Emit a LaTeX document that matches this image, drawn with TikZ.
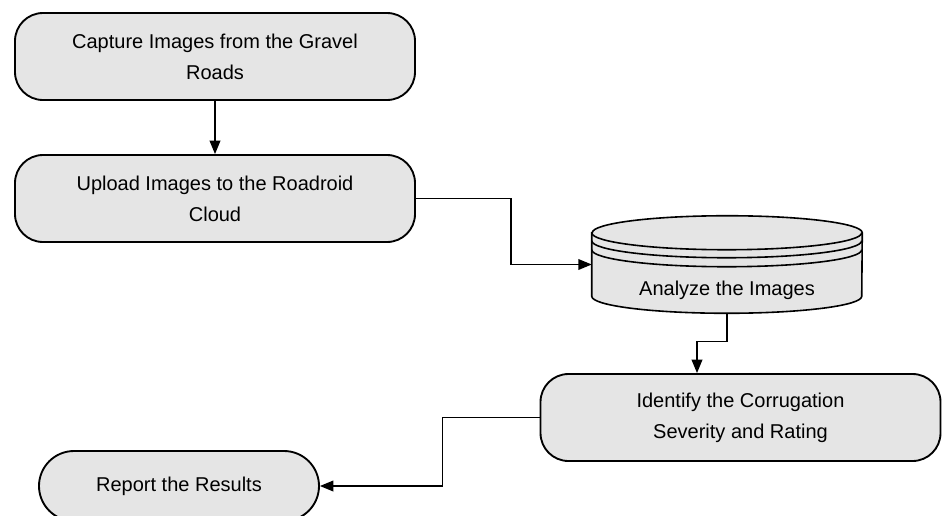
\documentclass[tikz,border=0pt]{standalone}
\usepackage{fontspec}
\setmainfont{Liberation Sans}
\usepackage{tikz}
\usetikzlibrary{arrows.meta, positioning, calc}

\begin{document}
\begin{tikzpicture}[
        x=0.75pt, y=0.75pt,
        procbox/.style={rectangle, draw, line width=1.4pt, fill=black!10, rounded corners=21pt, minimum width=300pt, minimum height=65.25pt, align=center, font=\fontsize{15}{23.25}\selectfont},
        termbox/.style={procbox, rounded corners=26.25pt, minimum width=210pt, minimum height=52.5pt},
        dbbody/.style={rectangle, inner sep=0pt, minimum width=202.5pt, minimum height=72.75pt},
        dbline/.style={draw, line width=1.2pt},
        conn/.style={line width=1pt, -{Triangle[length=10pt, width=8pt]}}
    ]
        \clip (0,0) rectangle (944,-515);

        % Steps
        \node[procbox] (cap) at (215,-56.5) {Capture Images from the Gravel\\Roads};
        \node[procbox] (upl) at (215,-198.5) {Upload Images to the Roadroid\\Cloud};

        \node[dbbody] (ana) at (727,-264.5) {};
        \path[dbline, fill=black!10] ($(ana.north west)+(0,-17)$) -- ($(ana.south west)+(0,17)$)
            arc[start angle=180, end angle=360, x radius=101.25pt, y radius=12.75pt]
            -- ($(ana.north east)+(0,-17)$)
            arc[start angle=0, end angle=180, x radius=101.25pt, y radius=12.75pt] -- cycle;
        \foreach \dy in {0,8,17}
            \draw[dbline] ($(ana.north west)+(0,-17-\dy)$) arc[start angle=180, end angle=360, x radius=101.25pt, y radius=12.75pt];
        \node[font=\fontsize{15}{23.25}\selectfont] (analbl) at ($(ana.center)+(0,-25.5)$) {Analyze the Images};

        \node[procbox] (id) at (740.5,-417.5) {Identify the Corrugation\\Severity and Rating};
        \node[termbox] (rep) at (179,-486) {Report the Results};

        % Connectors
        \draw[conn] (cap) -- (upl);
        \draw[conn] (upl.east) -- ++(95,0) |- (ana.west);
        \draw[conn] (ana.south) -- ++(0,-28) -| ($(id.north)+(-43.5,0)$);
        \draw[conn] (id.west) -- ++(-97,0) |- (rep.east);

    \end{tikzpicture}
\end{document}
